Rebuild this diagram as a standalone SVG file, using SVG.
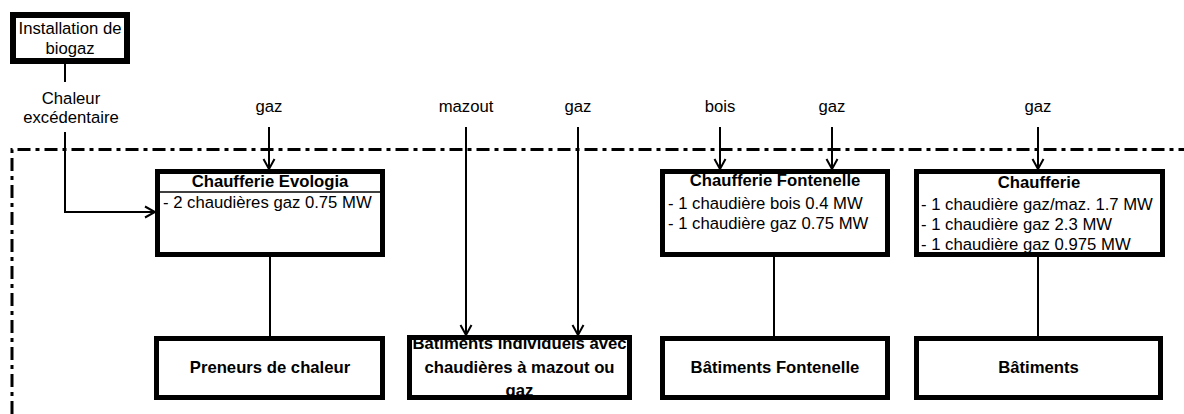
<svg xmlns="http://www.w3.org/2000/svg" width="1184" height="414" viewBox="0 0 1184 414">
<defs>
<marker id="arr" viewBox="-11 -7 13 14" refX="0" refY="0" markerWidth="13" markerHeight="14" markerUnits="userSpaceOnUse" orient="auto">
<path d="M-10,-5.5 L0,0 L-10,5.5" fill="none" stroke="#000" stroke-width="2"/>
</marker>
<style>
.box{fill:#fff;stroke:#000;stroke-width:5}
.conn{fill:none;stroke:#000;stroke-width:2}
.t{font-family:"Liberation Sans",Arial,sans-serif;font-size:16.7px;fill:#000}
.b{font-weight:bold}
.m{text-anchor:middle}
.bound{fill:none;stroke:#000;stroke-width:3;stroke-dasharray:13 5 4 5}
</style>
</defs>
<rect width="1184" height="414" fill="#fff"/>
<g id="boundary">
<path class="bound" d="M12,414 L12,149.5 L1184,149.5"/>
</g>
<g id="connectors">
<path class="conn" d="M65,64 L65,82"/>
<path class="conn" d="M65,132 L65,212 L155,212" marker-end="url(#arr)"/>
<path class="conn" d="M269,127 L269,169" marker-end="url(#arr)"/>
<path class="conn" d="M466,127 L466,335" marker-end="url(#arr)"/>
<path class="conn" d="M578,127 L578,335" marker-end="url(#arr)"/>
<path class="conn" d="M720,127 L720,169" marker-end="url(#arr)"/>
<path class="conn" d="M832,127 L832,169" marker-end="url(#arr)"/>
<path class="conn" d="M1038,127 L1038,169" marker-end="url(#arr)"/>
<path class="conn" d="M270,257 L270,336"/>
<path class="conn" d="M774,257 L774,336"/>
<path class="conn" d="M1038,257 L1038,336"/>
</g>
<g id="labels">
<text class="t m" x="71" y="103.5">Chaleur</text>
<text class="t m" x="71" y="123">excédentaire</text>
<text class="t m" x="269" y="112">gaz</text>
<text class="t m" x="466" y="112">mazout</text>
<text class="t m" x="578" y="112">gaz</text>
<text class="t m" x="720" y="112">bois</text>
<text class="t m" x="832" y="112">gaz</text>
<text class="t m" x="1038" y="112">gaz</text>
</g>
<g id="biogaz">
<rect x="13" y="15" width="114" height="46" fill="#fff" stroke="#000" stroke-width="6"/>
<text class="t m" x="70" y="34">Installation de</text>
<text class="t m" x="70" y="54">biogaz</text>
</g>
<g id="evologia">
<rect class="box" x="157.5" y="171.5" width="225" height="83"/>
<path d="M157,192 L383,192" stroke="#000" stroke-width="1.5"/>
<text class="t b m" x="270" y="187">Chaufferie Evologia</text>
<text class="t" x="163" y="208">- 2 chaudières gaz 0.75 MW</text>
</g>
<g id="fontenelle">
<rect class="box" x="662.5" y="171.5" width="225" height="83"/>
<text class="t b m" x="775" y="186">Chaufferie Fontenelle</text>
<text class="t" x="668" y="209">- 1 chaudière bois 0.4 MW</text>
<text class="t" x="668" y="229">- 1 chaudière gaz 0.75 MW</text>
</g>
<g id="chaufferie">
<rect class="box" x="916.5" y="171.5" width="246" height="83"/>
<text class="t b m" x="1039" y="188">Chaufferie</text>
<text class="t" x="921" y="210">- 1 chaudière gaz/maz. 1.7 MW</text>
<text class="t" x="921" y="230">- 1 chaudière gaz 2.3 MW</text>
<text class="t" x="921" y="250">- 1 chaudière gaz 0.975 MW</text>
</g>
<g id="preneurs">
<rect class="box" x="156.5" y="338.5" width="226" height="59"/>
<text class="t b m" x="270" y="373">Preneurs de chaleur</text>
</g>
<g id="individuels">
<rect class="box" x="409.5" y="337.5" width="220" height="60"/>
<text class="t b m" x="519.5" y="349">Bâtiments individuels avec</text>
<text class="t b m" x="519.5" y="373">chaudières à mazout ou</text>
<text class="t b m" x="519.5" y="396">gaz</text>
</g>
<g id="batfontenelle">
<rect class="box" x="662.5" y="338.5" width="225" height="59"/>
<text class="t b m" x="775" y="373">Bâtiments Fontenelle</text>
</g>
<g id="batiments">
<rect class="box" x="916.5" y="338.5" width="244" height="59"/>
<text class="t b m" x="1038.5" y="373">Bâtiments</text>
</g>
</svg>
